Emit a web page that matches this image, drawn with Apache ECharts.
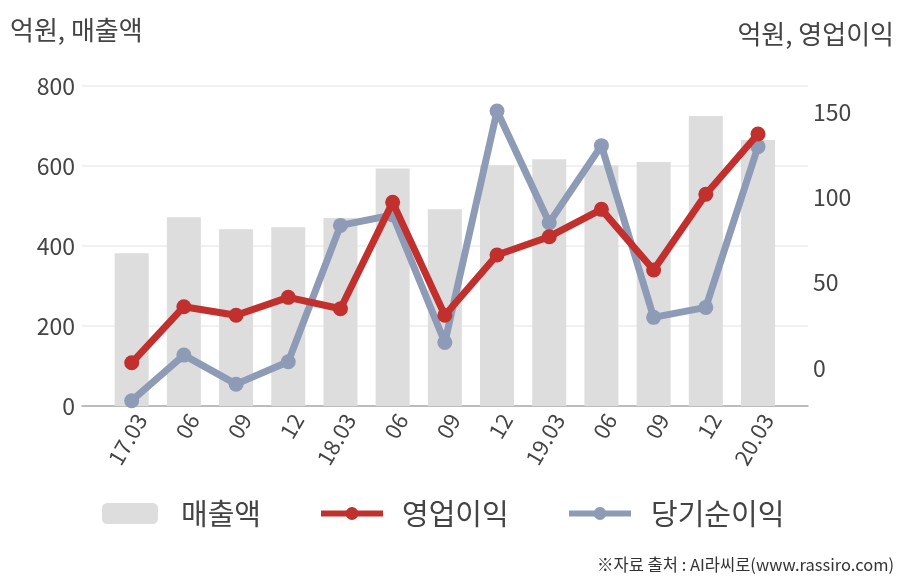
<!DOCTYPE html>
<html>
<head>
<meta charset="utf-8">
<script src="https://cdn.jsdelivr.net/npm/echarts@6/dist/echarts.min.js"></script>
<style>
html,body{margin:0;padding:0;background:#fff;}
#chart{width:908px;height:580px;}
</style>
</head>
<body>
<div id="chart"></div>
<script>
const categories = ['17.03','06','09','12','18.03','06','09','12','19.03','06','09','12','20.03'];
const sales = [382, 472, 442, 447, 470, 594, 492, 602, 617, 602, 610, 725, 665];
const operatingProfit = [3.1, 35.9, 30.9, 41.4, 34.7, 97.0, 30.9, 66.2, 76.9, 92.9, 57.4, 101.7, 137.0];
const netProfit = [-19.1, 7.6, -9.4, 3.7, 83.5, 89.6, 15.0, 150.5, 85.1, 130.2, 29.7, 35.5, 129.6];
const leftTicks = [0, 200, 400, 600, 800];
const rightTicks = [0, 50, 100, 150];
const seriesNames = ['매출액', '영업이익', '당기순이익'];

const FONT = '"Noto Sans CJK KR", "Noto Sans", sans-serif';
const idx = categories.map((c, i) => i);
const pairs = arr => arr.map((v, i) => [i, v]);

const legendText = pad => ({ fontSize: 29, color: '#444', fontFamily: FONT, padding: [0, 0, 0, pad] });

const chart = echarts.init(document.getElementById('chart'));
chart.setOption({
  animation: false,
  backgroundColor: '#fff',
  textStyle: { fontFamily: FONT },
  grid: { left: 82, right: 100, top: 86, bottom: 174 },
  graphic: [
    { type: 'text', left: 10, top: 17, style: { text: '억원, 매출액', font: '26px ' + FONT, fill: '#444' } },
    { type: 'text', right: 14, top: 21, style: { text: '억원, 영업이익', font: '26px ' + FONT, fill: '#444' } },
    { type: 'text', right: 14, top: 556, style: { text: '※자료 출처 : AI라씨로(www.rassiro.com)', font: '16.5px ' + FONT, fill: '#333' } }
  ],
  legend: [
    {
      left: 97, top: 494, itemWidth: 56, itemHeight: 21,
      textStyle: legendText(18), data: [seriesNames[0]]
    },
    {
      left: 313, top: 494, itemWidth: 62, itemHeight: 16,
      lineStyle: { width: 6 },
      textStyle: legendText(14), data: [seriesNames[1]]
    },
    {
      left: 561, top: 494, itemWidth: 62, itemHeight: 16,
      lineStyle: { width: 6 },
      textStyle: legendText(15), data: [seriesNames[2]]
    }
  ],
  xAxis: {
    type: 'value', min: -0.952, max: 12.958,
    axisLine: { show: true, lineStyle: { color: '#aaa', width: 1.5 } },
    axisTick: { show: false },
    splitLine: { show: false },
    axisLabel: {
      customValues: idx,
      formatter: v => categories[Math.round(v)],
      rotate: 60, fontSize: 22, color: '#444', margin: 4,
      verticalAlign: 'top', fontFamily: FONT
    }
  },
  yAxis: [
    {
      type: 'value', min: 0, max: 800, interval: 200,
      axisLine: { show: false }, axisTick: { show: false },
      splitLine: { lineStyle: { color: '#ececec', width: 1.5 } },
      axisLabel: { customValues: leftTicks, fontSize: 23, color: '#444', margin: 7, fontFamily: FONT }
    },
    {
      type: 'value', min: -22.2, max: 165.1,
      axisLine: { show: false }, axisTick: { show: false },
      splitLine: { show: false },
      axisLabel: { customValues: rightTicks, fontSize: 23, color: '#444', margin: 5, fontFamily: FONT }
    }
  ],
  series: [
    {
      name: seriesNames[0], type: 'bar', yAxisIndex: 0, barWidth: 34,
      itemStyle: { color: '#dddddd' }, data: pairs(sales), z: 1
    },
    {
      name: seriesNames[1], type: 'line', yAxisIndex: 1,
      symbol: 'circle', symbolSize: 15,
      lineStyle: { color: '#c2302e', width: 7 },
      itemStyle: { color: '#c2302e' },
      data: pairs(operatingProfit), z: 4
    },
    {
      name: seriesNames[2], type: 'line', yAxisIndex: 1,
      symbol: 'circle', symbolSize: 15,
      lineStyle: { color: '#8e9bb6', width: 7 },
      itemStyle: { color: '#8e9bb6' },
      data: pairs(netProfit), z: 3
    }
  ]
});
</script>
</body>
</html>
